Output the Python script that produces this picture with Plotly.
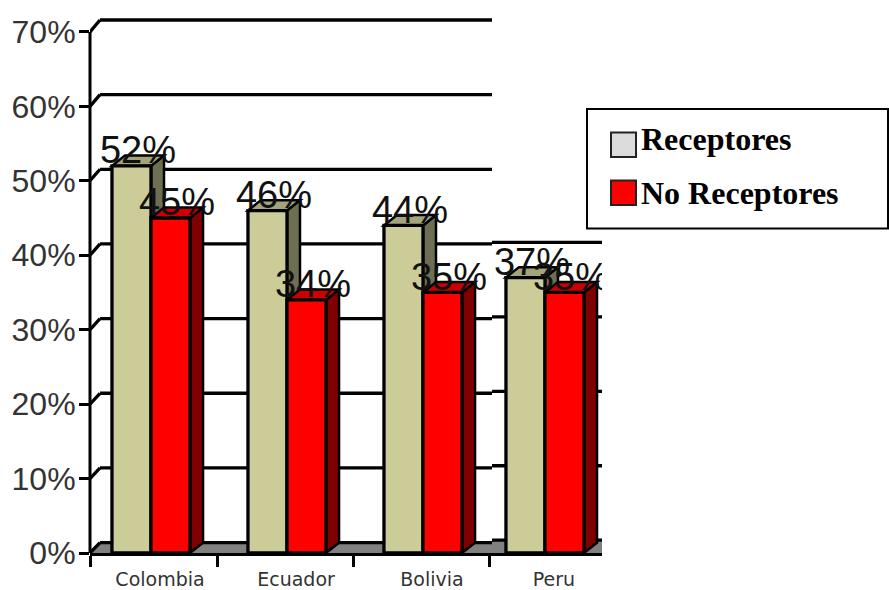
import plotly.graph_objects as go

# Survey values (percent) by country
categories = ["Colombia", "Ecuador", "Bolivia", "Peru"]
receptores = [52, 46, 44, 37]
no_receptores = [45, 34, 35, 35]
y_ticks = [0, 10, 20, 30, 40, 50, 60, 70]
y_tick_labels = ["0%", "10%", "20%", "30%", "40%", "50%", "60%", "70%"]

# Category centres on the numeric x axis; Peru sits in its own tighter panel
category_pos = [0, 1, 2, 2.897]
group_edges = [-0.4485, 0.4926, 1.4926, 2.4926]

WIDTH, HEIGHT = 889, 590
LEFT, RIGHT, BOTTOM = 90, 602, 553.5
PX_PER_X = 136.0
PX_PER_Y = 7.454
Y_MAX = 72
TOP = BOTTOM - Y_MAX * PX_PER_Y
X_MIN = (LEFT - 151) / PX_PER_X
X_MAX = (RIGHT - 151) / PX_PER_X
X_SEAM = (492 - 151) / PX_PER_X

BAR_W = 0.287
DEPTH_X = 13 / PX_PER_X
DEPTH_Y = 1.4
WALL_X = 10 / PX_PER_X
PANEL_LIFT = 1.72  # the Peru panel's back wall sits slightly higher
LABEL_NUDGE = 9 / PX_PER_X  # category names sit right of the group centre
VALUE_LIFT = 1.65  # value labels straddle the top face of their bar

KHAKI, KHAKI_TOP, KHAKI_SIDE = "#CCCC99", "#A3A37E", "#6E6E52"
RED, RED_TOP, RED_SIDE = "#FF0000", "#CC0000", "#800000"


def polygon(points, fill, width=2.5):
    path = "M " + " L ".join(f"{x},{y}" for x, y in points) + " Z"
    return dict(type="path", path=path, xref="x", yref="y", layer="below",
                fillcolor=fill, line=dict(color="black", width=width))


def rule(x0, y0, x1, y1):
    return dict(type="line", x0=x0, y0=y0, x1=x1, y1=y1, xref="x", yref="y",
                layer="below", line=dict(color="black", width=3.3))


def block_faces(x_left, x_right, value, top_color, side_color):
    top = [(x_left, value), (x_left + DEPTH_X, value + DEPTH_Y),
           (x_right + DEPTH_X, value + DEPTH_Y), (x_right, value)]
    side = [(x_right, 0), (x_right + DEPTH_X, DEPTH_Y),
            (x_right + DEPTH_X, value + DEPTH_Y), (x_right, value)]
    return [polygon(side, side_color), polygon(top, top_color)]


shapes = []

# Grey floor in both panels
shapes.append(polygon([(X_MIN, 0), (X_MIN + WALL_X, DEPTH_Y), (X_SEAM, DEPTH_Y), (X_SEAM, 0)],
                      "#808080", 0))
shapes.append(polygon([(X_SEAM, 0), (X_SEAM, PANEL_LIFT), (X_MAX, PANEL_LIFT), (X_MAX, 0)],
                      "#808080", 0))

# Back-wall rules with the short diagonal up from each y tick
for v in y_ticks:
    lift = DEPTH_Y + (v / 70) * 0.2
    shapes.append(rule(X_MIN, v, X_MIN + WALL_X, v + lift))
    shapes.append(rule(X_MIN + WALL_X, v + lift, X_SEAM, v + lift))
    if v <= 40:
        shapes.append(rule(X_SEAM, v + PANEL_LIFT, X_MAX, v + PANEL_LIFT))

# Depth faces of every bar, khaki before red so red overlaps its neighbour
for pos, a, b in zip(category_pos, receptores, no_receptores):
    shapes += block_faces(pos - BAR_W, pos, a, KHAKI_TOP, KHAKI_SIDE)
    shapes += block_faces(pos, pos + BAR_W, b, RED_TOP, RED_SIDE)

# Vertical axis line stops at the 70% tick
shapes.append(dict(type="line", xref="paper", yref="y", x0=0, x1=0, y0=0, y1=70,
                   line=dict(color="black", width=3)))


def paper_x(px):
    return (px - LEFT) / (RIGHT - LEFT)


def paper_y(px):
    return (BOTTOM - px) / (BOTTOM - TOP)


def box(x0, y0, x1, y1, fill, width=2, color="black"):
    return dict(type="rect", xref="paper", yref="paper", x0=paper_x(x0), x1=paper_x(x1),
                y0=paper_y(y0), y1=paper_y(y1), fillcolor=fill, layer="above",
                line=dict(color=color, width=width))


# Legend panel drawn by hand so its swatches can be large
shapes.append(box(587, 109, 888, 228.5, "white"))
shapes.append(box(611, 132.5, 636, 157, "#DCDCDC", 2, "#222222"))
shapes.append(box(611, 180.5, 636, 205, "#FF0000", 2, "#222222"))

legend_text = [dict(xref="paper", yref="paper", x=paper_x(639), y=paper_y(y),
                    xanchor="left", yanchor="middle", text=f"<b>{label}</b>", showarrow=False,
                    font=dict(family="Liberation Serif", size=32, color="black"))
               for label, y in (("Receptores", 139), ("No Receptores", 193))]

fig = go.Figure()
fig.add_bar(x=category_pos, y=receptores, width=BAR_W, offset=-BAR_W,
            marker=dict(color=KHAKI, line=dict(color="black", width=3.3)), name="Receptores")
fig.add_bar(x=category_pos, y=no_receptores, width=BAR_W, offset=0,
            marker=dict(color=RED, line=dict(color="black", width=3.3)), name="No Receptores")

LABEL_SHIFT = 6.5 / PX_PER_X
label_font = dict(family="Liberation Sans", size=38, color="#111111")
fig.add_scatter(x=[p - BAR_W / 2 + LABEL_SHIFT for p in category_pos],
                y=[v + VALUE_LIFT for v in receptores],
                text=[f"{v}%" for v in receptores], mode="text", textposition="middle center",
                textfont=label_font, cliponaxis=True, name="Receptores %")
fig.add_scatter(x=[p + BAR_W / 2 + LABEL_SHIFT for p in category_pos],
                y=[v + VALUE_LIFT for v in no_receptores],
                text=[f"{v}%" for v in no_receptores], mode="text", textposition="middle center",
                textfont=label_font, cliponaxis=True, name="No Receptores %")

fig.update_layout(
    width=WIDTH, height=HEIGHT, autosize=False, showlegend=False, barmode="overlay",
    paper_bgcolor="white", plot_bgcolor="white",
    margin=dict(l=LEFT, r=WIDTH - RIGHT, t=TOP, b=HEIGHT - BOTTOM, pad=0),
    shapes=shapes, annotations=legend_text,
    xaxis=dict(range=[X_MIN, X_MAX], automargin=False, showgrid=False, zeroline=False, showline=True,
               linecolor="black", linewidth=3, tickmode="array",
               tickvals=[p + LABEL_NUDGE for p in category_pos],
               ticktext=categories, ticks="outside", ticklen=0, tickwidth=0,
               tickfont=dict(family="DejaVu Sans", size=19, color="#333333"),
               ticklabelstandoff=7,
               minor=dict(tickmode="array", tickvals=group_edges, ticks="outside",
                          ticklen=11, tickwidth=3, tickcolor="black", showgrid=False)),
    yaxis=dict(range=[0, Y_MAX], automargin=False, showgrid=False, zeroline=False, showline=False,
               tickmode="array", tickvals=y_ticks, ticktext=y_tick_labels, ticks="outside",
               ticklen=10, tickwidth=3, tickcolor="black", ticklabelstandoff=-3,
               tickfont=dict(family="Liberation Sans", size=32, color="#333333")),
)

fig.write_html("out.html")
